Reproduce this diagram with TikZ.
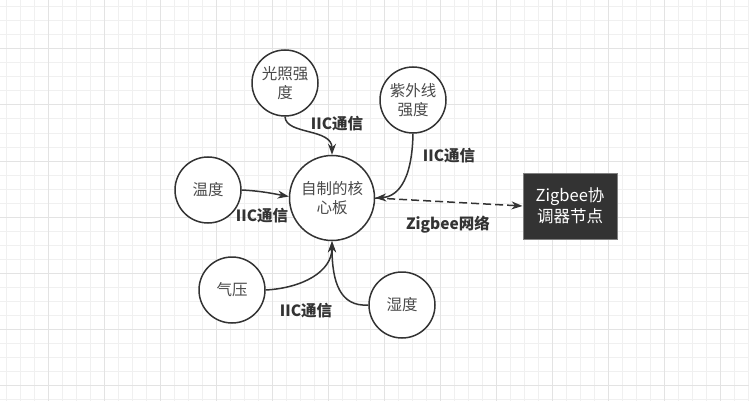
\documentclass[tikz,border=0pt]{standalone}
\usepackage{fontspec}
\setmainfont{Noto Sans CJK SC}
\usetikzlibrary{arrows.meta}
\definecolor{gridminor}{HTML}{F0F0F0}
\definecolor{gridmajor}{HTML}{E3E3E3}
\definecolor{ink}{HTML}{333333}
\definecolor{soft}{HTML}{4A4A4A}

\begin{document}
\begin{tikzpicture}[x=1pt,y=-1pt,
        sensor/.style={circle, draw=ink, line width=1.5pt, fill=white, minimum size=66pt,
            inner sep=0pt, align=center, text=soft, font=\fontsize{15.5}{19.5}\selectfont},
        link/.style={draw=ink, line width=1.5pt, -{Stealth[length=11pt,width=8pt]}},
        lbl/.style={text=ink, font=\fontsize{15.5}{17}\selectfont\bfseries}]
        % Background grid
        \useasboundingbox (0,0) rectangle (749,401);
        \fill[white] (0,0) rectangle (749,401);
        \foreach \x in {6,20,...,748} \draw[gridminor, line width=1pt] (\x,0) -- (\x,401);
        \foreach \y in {7,21,...,400} \draw[gridminor, line width=1pt] (0,\y) -- (749,\y);
        \foreach \x in {48,104,...,748} \draw[gridmajor, line width=1pt] (\x,0) -- (\x,401);
        \foreach \y in {49,105,...,400} \draw[gridmajor, line width=1pt] (0,\y) -- (749,\y);

        % Sensors and core board
        \node[sensor] (light) at (285,83) {光照强\\度};
        \node[sensor] (uv) at (413,100) {紫外线\\强度};
        \node[sensor] (temp) at (208,190) {温度};
        \node[sensor, minimum size=85pt] (core) at (332,198) {自制的核\\心板};
        \node[sensor] (press) at (232,290) {气压};
        \node[sensor] (humid) at (402,305) {湿度};

        % Coordinator
        \node[draw=gray, line width=1pt, fill=ink, text=white, minimum width=94pt, minimum height=66pt,
            align=center, font=\fontsize{16.5}{21}\selectfont] (zb) at (570,206) {Zigbee协\\调器节点};

        % IIC links
        \draw[link] (light.south) .. controls (286,135) and (332,128) .. (core.north);
        \draw[link] (uv.south) .. controls (412,185) and (395,197) .. (core.east);
        \draw[link] (temp.east) .. controls (262,191) and (275,194) .. (core.178);
        \draw[link] (press.east) .. controls (302,288) and (332,272) .. (core.south);
        \draw[link] (humid.west) .. controls (340,307) and (332,282) .. (core.south);

        % Zigbee link
        \draw[link, dash pattern=on 8pt off 4pt] (core.east) -- (zb.west);

        % Labels
        \node[lbl] (l1) at (337,124) {IIC通信};
        \node[lbl] (l2) at (449,156) {IIC通信};
        \node[lbl] (l3) at (262,216) {IIC通信};
        \node[lbl] (l4) at (306,311) {IIC通信};
        \node[lbl] (l5) at (448,225) {Zigbee网络};
    \end{tikzpicture}
\end{document}
